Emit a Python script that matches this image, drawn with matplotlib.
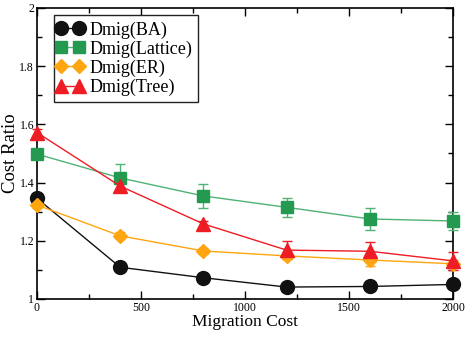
import matplotlib
matplotlib.use("Agg")
import matplotlib.pyplot as plt
from matplotlib.lines import Line2D
from matplotlib.legend_handler import HandlerLine2D
from matplotlib.ticker import MultipleLocator

plt.rcParams['font.family'] = ['Liberation Serif', 'DejaVu Serif']

migration_cost = [0, 400, 800, 1200, 1600, 2000]

ba = [1.346, 1.109, 1.073, 1.041, 1.043, 1.050]
ba_err = [0.008, 0.006, 0.006, 0.006, 0.006, 0.006]

lattice = [1.498, 1.416, 1.354, 1.315, 1.275, 1.268]
lattice_err = [0.015, 0.049, 0.040, 0.033, 0.037, 0.031]

er = [1.323, 1.217, 1.165, 1.148, 1.134, 1.121]
er_err = [0.010, 0.012, 0.010, 0.012, 0.022, 0.012]

tree = [1.572, 1.388, 1.258, 1.168, 1.164, 1.131]
tree_err = [0.012, 0.020, 0.010, 0.032, 0.033, 0.030]

series = [
    ("Dmig(BA)", ba, ba_err, "#111111", "#111111", "o", 10),
    ("Dmig(Lattice)", lattice, lattice_err, "#239a4f", "#4fb276", "s", 8.5),
    ("Dmig(ER)", er, er_err, "#ffa510", "#ffa510", "D", 7),
    ("Dmig(Tree)", tree, tree_err, "#ee1c24", "#ee1c24", "^", 9.5),
]

fig = plt.figure(figsize=(4.68, 3.37), dpi=100)
ax = fig.add_axes([0.079, 0.1128, 0.889, 0.8635])

handles = []
for label, ys, errs, mcol, lcol, mk, ms in series:
    ax.errorbar(migration_cost, ys, yerr=errs, color=lcol, ecolor=lcol,
                elinewidth=1.0, capsize=3.5, capthick=1.0, linewidth=1.0,
                marker=mk, markersize=ms, markerfacecolor=mcol,
                markeredgecolor=mcol, clip_on=False, zorder=3)
    handles.append(Line2D([], [], color=lcol, linewidth=1.0, marker=mk,
                          markersize=ms, markerfacecolor=mcol,
                          markeredgecolor=mcol, label=label))

ax.set_xlim(0, 2000)
ax.set_ylim(1, 2)
ax.xaxis.set_major_locator(MultipleLocator(500))
ax.xaxis.set_minor_locator(MultipleLocator(250))
ax.yaxis.set_major_locator(MultipleLocator(0.2))
ax.yaxis.set_minor_locator(MultipleLocator(0.1))
ax.yaxis.set_major_formatter(plt.FuncFormatter(lambda v, p: f"{v:g}"))

ax.tick_params(which='both', direction='in', top=True, right=True,
               labelsize=8.5, width=1.0, pad=2)
ax.tick_params(which='major', length=6)
ax.tick_params(which='minor', length=3.5)
for s in ax.spines.values():
    s.set_linewidth(1.2)

ax.set_xlabel("Migration Cost", fontsize=12.5, labelpad=0)
ax.set_ylabel("Cost Ratio", fontsize=13.5, labelpad=0)

leg = ax.legend(handles=handles, loc='upper left',
                bbox_to_anchor=(0.041, 0.976), borderaxespad=0, fontsize=13,
                numpoints=2, handlelength=1.1, handletextpad=0.5,
                borderpad=0.35, labelspacing=0.1, fancybox=False,
                frameon=True, framealpha=1,
                handler_map={Line2D: HandlerLine2D(marker_pad=0.05)})
leg.get_frame().set_edgecolor('#222222')
leg.get_frame().set_linewidth(1.0)

fig.savefig("out.png", dpi=100)
